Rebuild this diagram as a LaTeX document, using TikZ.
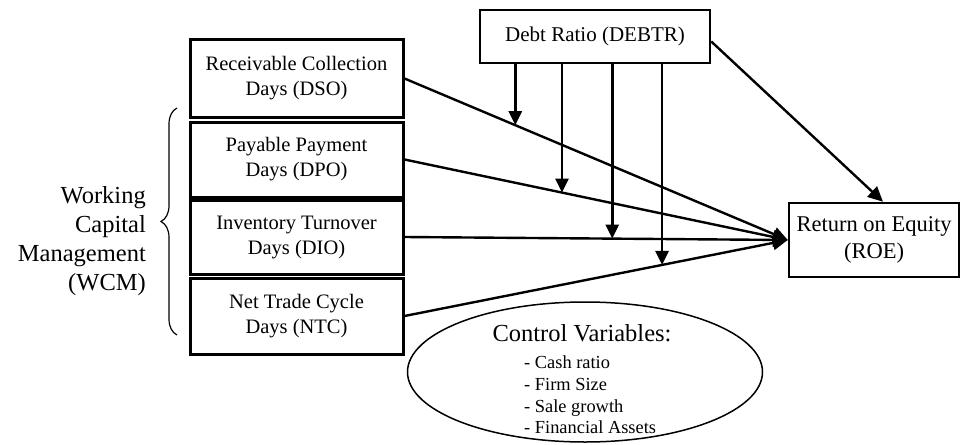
\documentclass[tikz,border=0pt]{standalone}
\usepackage{fontspec}
\setmainfont{Liberation Serif}
\usetikzlibrary{arrows.meta,shapes.geometric,decorations.pathreplacing}
\begin{document}
\begin{tikzpicture}[x=1pt,y=-1pt,
  wbox/.style={draw, line width=3pt, minimum width=213pt, align=center, inner sep=0pt,
    font=\fontsize{20.5}{25}\selectfont},
  dbox/.style={draw, line width=2.5pt, align=center, inner sep=0pt},
  conn/.style={line width=2.4pt, -{Triangle[length=15pt,width=14pt]}},
  modarrow/.style={line width=2.8pt, -{Triangle[length=14pt,width=13pt]}}
]
\useasboundingbox (0,0) rectangle (960,444);

% WCM boxes
\node[wbox, minimum height=77pt] (dso) at (296.5,78.5) {Receivable Collection\\Days (DSO)};
\node[wbox, minimum height=75pt] (dpo) at (296.5,159.5) {Payable Payment\\Days (DPO)};
\node[wbox, minimum height=74pt] (dio) at (296.5,237) {Inventory Turnover\\Days (DIO)};
\node[wbox, minimum height=76pt] (ntc) at (296.5,316) {Net Trade Cycle\\Days (NTC)};

% Debt ratio and ROE
\node[dbox, minimum width=230pt, minimum height=53pt, font=\fontsize{21}{25}\selectfont] (debt) at (595,36.5) {Debt Ratio (DEBTR)};
\node[dbox, minimum width=170pt, minimum height=74pt, font=\fontsize{22.5}{27}\selectfont] (roe) at (874,240) {Return on Equity\\(ROE)};

% Brace and WCM label
\draw[line width=1.2pt, decorate, decoration={brace, amplitude=16pt}] (177,335) -- (177,108);
\node[anchor=east, align=right, inner sep=0pt, font=\fontsize{24.5}{29}\selectfont] (wcm) at (146,241) {Working\\Capital\\Management\\(WCM)};

% Control variables
\node[draw, ellipse, line width=1.5pt, minimum width=355pt, minimum height=140pt] (ctrl) at (585,372) {};
\node[inner sep=0pt, font=\fontsize{24.5}{29}\selectfont] (ctitle) at (582,333) {Control Variables:};
\node[anchor=west, align=left, inner sep=0pt, font=\fontsize{18.4}{21.6}\selectfont] (clist) at (524,395) {- Cash ratio\\- Firm Size\\- Sale growth\\- Financial Assets};

% Paths to ROE
\draw[conn] (dso.east) -- (roe.west) coordinate[pos=0.289] (m1);
\draw[conn] (dpo.east) -- (roe.west) coordinate[pos=0.411] (m2);
\draw[conn] (dio.east) -- (roe.west) coordinate[pos=0.542] (m3);
\draw[conn] (ntc.east) -- (roe.west) coordinate[pos=0.672] (m4);

% Moderating arrows
\draw[modarrow] (m1 |- debt.south) -- (m1);
\draw[modarrow] (m2 |- debt.south) -- (m2);
\draw[modarrow] (m3 |- debt.south) -- (m3);
\draw[modarrow] (m4 |- debt.south) -- (m4);

% Direct effect
\draw[conn] ([yshift=-5pt]debt.east) -- ([xshift=9pt]roe.north);
\end{tikzpicture}
\end{document}
